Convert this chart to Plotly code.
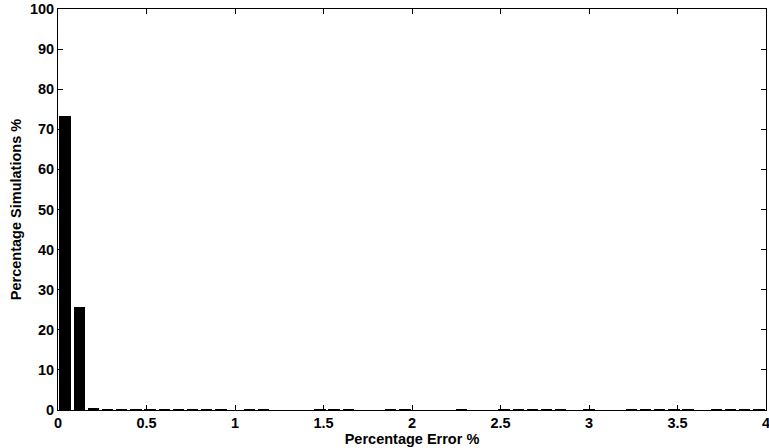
import plotly.graph_objects as go

# Histogram of percentage error: 50 bins of width 0.08 spanning 0..4 %
bin_width = 0.08
bin_centers = [round(0.04 + bin_width * k, 2) for k in range(50)]
pct_simulations = [
    73.3, 25.7, 0.30, 0.10, 0.10, 0.12, 0.10, 0.10, 0.08, 0.10,
    0.10, 0.05, 0.00, 0.10, 0.10, 0.00, 0.00, 0.00, 0.10, 0.10,
    0.10, 0.00, 0.00, 0.10, 0.10, 0.00, 0.00, 0.00, 0.05, 0.00,
    0.00, 0.10, 0.10, 0.10, 0.10, 0.10, 0.00, 0.10, 0.00, 0.00,
    0.10, 0.10, 0.05, 0.10, 0.10, 0.00, 0.10, 0.10, 0.10, 0.05,
]

x_ticks = [0, 0.5, 1, 1.5, 2, 2.5, 3, 3.5, 4]
x_tick_text = ["0", "0.5", "1", "1.5", "2", "2.5", "3", "3.5", "4"]
y_ticks = list(range(0, 101, 10))

fig = go.Figure(
    go.Bar(
        x=bin_centers,
        y=pct_simulations,
        width=bin_width * 0.8,
        marker=dict(color="black", line=dict(width=0)),
    )
)

family = "Liberation Sans, Arial, sans-serif"
tick_font = dict(family=family, size=14.5, color="black", weight="bold")
title_font = dict(family=family, size=14.5, color="black", weight="bold")

fig.update_layout(
    width=769,
    height=448,
    margin=dict(l=58, r=3, t=9, b=38),
    paper_bgcolor="white",
    plot_bgcolor="white",
    showlegend=False,
    font=dict(family=family, color="black"),
    bargap=0,
)

fig.update_xaxes(
    range=[0, 4],
    tickvals=x_ticks,
    ticktext=x_tick_text,
    ticks="inside",
    ticklen=5,
    tickcolor="black",
    showline=True,
    linecolor="black",
    linewidth=1,
    mirror="ticks",
    showgrid=False,
    zeroline=False,
    automargin=False,
    tickfont=tick_font,
    ticklabeloverflow="allow",
    title=dict(text="Percentage Error %", font=title_font, standoff=1),
)

fig.update_yaxes(
    range=[0, 100],
    tickvals=y_ticks,
    ticks="inside",
    ticklen=5,
    tickcolor="black",
    showline=True,
    linecolor="black",
    linewidth=1,
    mirror="ticks",
    showgrid=False,
    zeroline=False,
    automargin=False,
    tickfont=tick_font,
    ticklabeloverflow="allow",
    title=dict(text="Percentage Simulations %", font=title_font, standoff=4),
)

fig.write_html("out.html")
